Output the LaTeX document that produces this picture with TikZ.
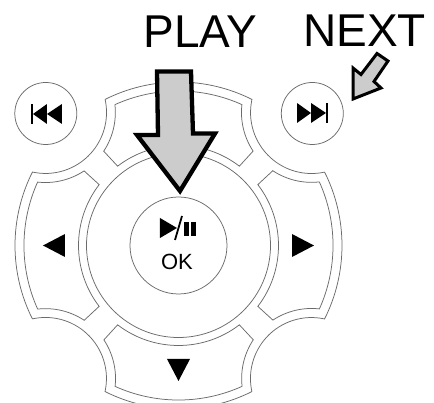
\documentclass[tikz,border=0pt]{standalone}
\usepackage{fontspec}
\setmainfont{Liberation Sans}
\tikzset{
  btnline/.style={draw=black!58, line width=.75pt},
  callout/.style={draw=black, fill=black!20, line join=miter, miter limit=10},
  lbl/.style={inner sep=0pt, anchor=base, font=\fontsize{46}{46}\selectfont},
}
\begin{document}
\begin{tikzpicture}[x=1pt,y=1pt]
\clip (-178.5,-157.5) rectangle (255.5,245.5);
\fill[white] (-178.5,-157.5) rectangle (255.5,245.5);
% outer frame
\foreach \a in {0,-90,-180,-270}
  \draw[btnline, rotate=\a] (116.7:163.5) arc[start angle=116.7, end angle=63.3, radius=163.5]
    arc[start angle=167.6, end angle=282.4, radius=61];
% four pads
\foreach \a in {0,-90,-180,-270}
  \draw[btnline, rotate=\a] (-63.6,140.8) arc[start angle=6.45, end angle=-33.5, radius=70]
    -- (127.5:100) arc[start angle=127.5, end angle=52.5, radius=100]
    -- (74.6,94.4) arc[start angle=213.5, end angle=173.55, radius=70]
    arc[start angle=65.75, end angle=114.25, radius=154.5] -- cycle;
\node[btnline, circle, minimum size=184pt, inner sep=0pt] (ring) at (0,0){};
\node[btnline, circle, minimum size=97pt, inner sep=0pt] (okbtn) at (0,0){};
\node[btnline, circle, minimum size=62pt, inner sep=0pt] (prevbtn) at (-132.7,132){};
\node[btnline, circle, minimum size=62pt, inner sep=0pt] (nextbtn) at (133.8,132){};
% direction marks
\foreach \a in {90,-90,180}
  \fill[rotate=\a] (-11.5,113.5) -- (11.5,113.5) -- (0,135.5) -- cycle;
% prev and next marks
\fill (-147.5,121.5) rectangle (-145.5,141.5);
\fill (-145.5,131.5) -- (-131.5,141.5) -- (-131.5,121.5) -- cycle;
\fill (-131.5,131.5) -- (-116.5,141.5) -- (-116.5,121.5) -- cycle;
\fill (118.5,142.5) -- (132.5,132.5) -- (118.5,122.5) -- cycle;
\fill (132.5,142.5) -- (147.5,132.5) -- (132.5,122.5) -- cycle;
\fill (147.5,122.5) rectangle (149.5,142.5);
% play and pause
\fill (-18.5,27.5) -- (-1.5,17.5) -- (-18.5,7.5) -- cycle;
\draw[line width=1.8pt] (-3.5,5.5) -- (3.5,29.5);
\fill (5.8,9.5) rectangle (11,23.5);
\fill (12.5,9.5) rectangle (17.5,23.5);
\node[inner sep=0pt, font=\fontsize{22}{22}\selectfont] (oklbl) at (-1.5,-16.5){OK};
% callouts
\draw[callout, line width=4.3pt] (-21.5,174) -- (12.5,174) -- (14.5,112) -- (36.5,112)
  -- (1.5,54.5) -- (-41.5,110.5) -- (-20.5,110.5) -- cycle;
\draw[callout, line width=3pt] (198.5,192) -- (209.5,184.5) -- (195.5,164) -- (202.5,157.5)
  -- (174.5,146.5) -- (174.5,177.5) -- (182.5,171) -- cycle;
\node[lbl] (playlbl) at (22,197.5){PLAY};
\node[lbl] (nextlbl) at (186,198.5){NEXT};
\end{tikzpicture}
\end{document}
